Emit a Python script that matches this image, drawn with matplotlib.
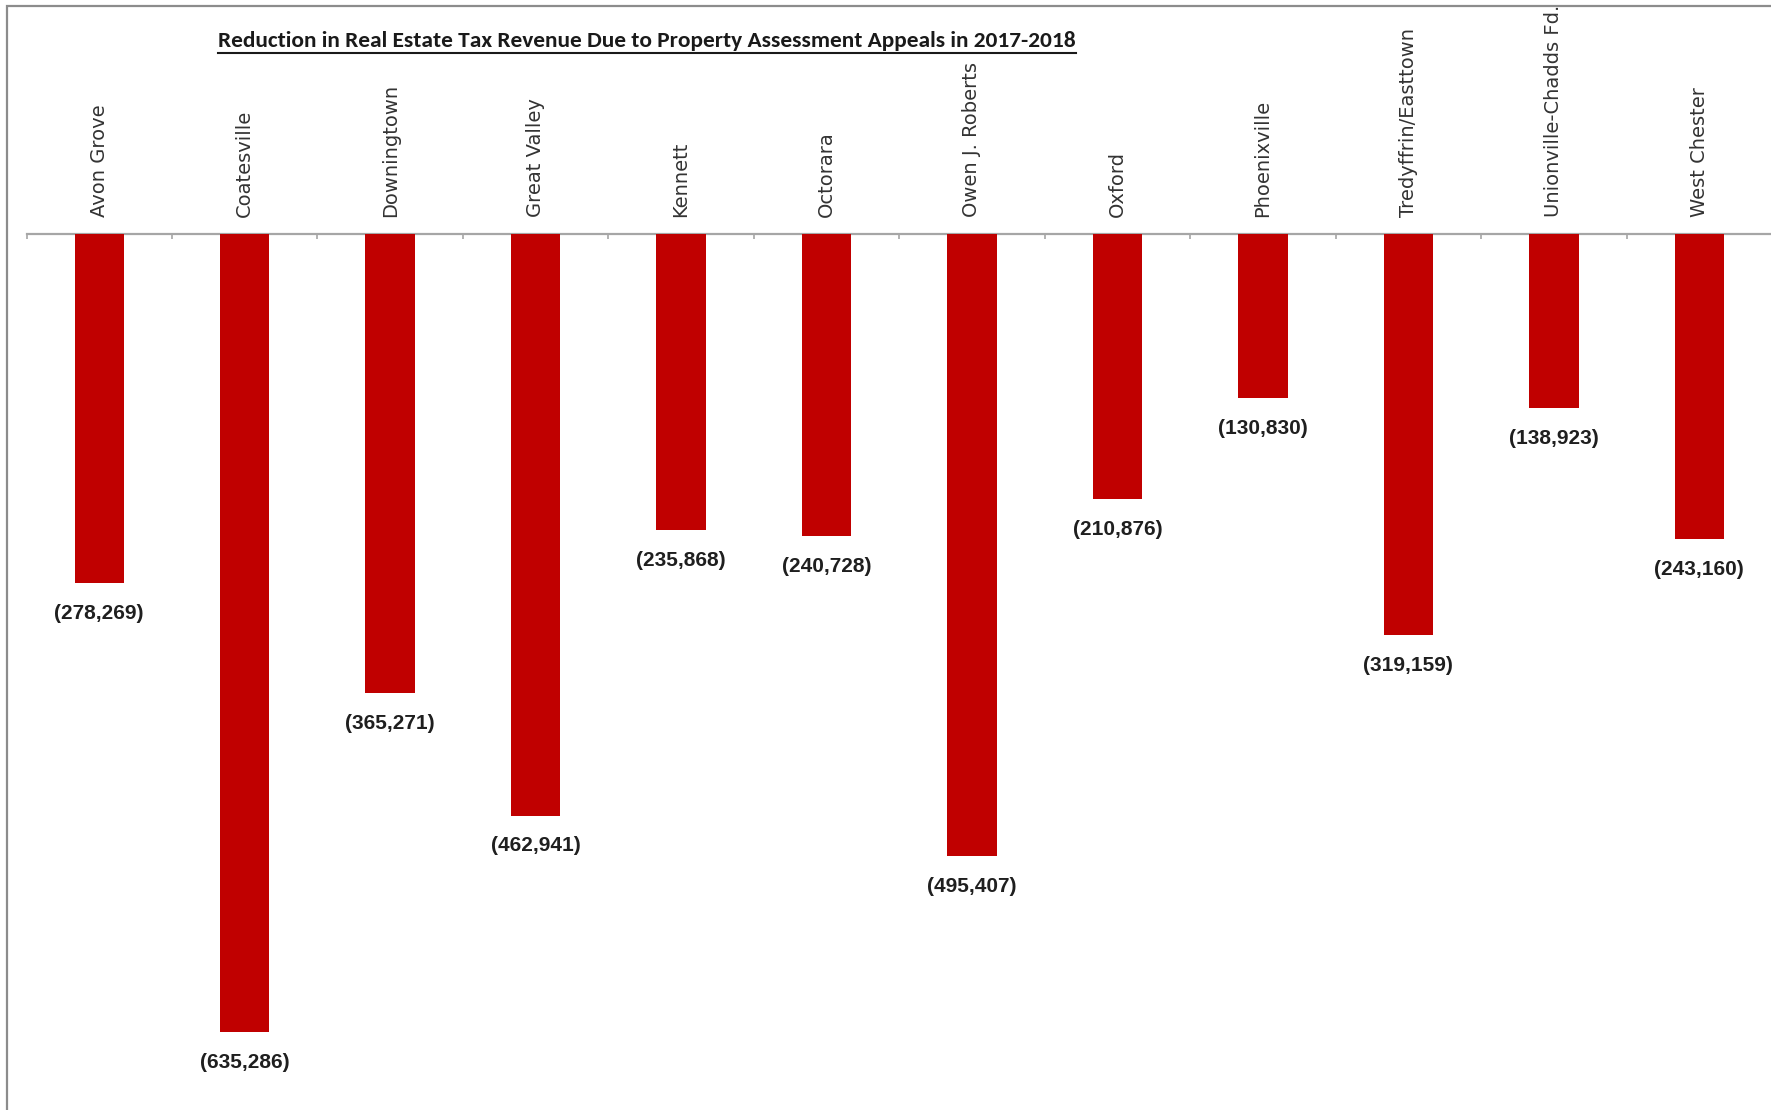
import matplotlib
matplotlib.use("Agg")
import matplotlib.pyplot as plt
from matplotlib.patches import Rectangle
from matplotlib.lines import Line2D
import numpy as np

districts = ["Avon Grove", "Coatesville", "Downingtown", "Great Valley", "Kennett",
             "Octorara", "Owen J. Roberts", "Oxford", "Phoenixville",
             "Tredyffrin/Easttown", "Unionville-Chadds Fd.", "West Chester"]
reductions = [-278269, -635286, -365271, -462941, -235868, -240728,
              -495407, -210876, -130830, -319159, -138923, -243160]
title = "Reduction in Real Estate Tax Revenue Due to Property Assessment Appeals in 2017-2018"

W, H = 1771, 1110
fig = plt.figure(figsize=(W / 100, H / 100), dpi=100)
fig.patch.set_facecolor("white")

# axes: x from 26.5 px to 1772 px, y from zero line (233.5 px) to bottom
ax_left = 26.5 / W
ax_width = (1772 - 26.5) / W
ax_height = (H - 233.5) / H
ax = fig.add_axes([ax_left, 0, ax_width, ax_height])

x = np.arange(len(districts))
ax.bar(x, reductions, width=0.34, color="#C00000", zorder=3)

ax.set_xlim(-0.5, len(districts) - 0.5)
ax.set_ylim(-697000, 0)

for spine in ["left", "right", "bottom"]:
    ax.spines[spine].set_visible(False)
ax.spines["top"].set_color("#a6a6a6")
ax.spines["top"].set_linewidth(1.6)
ax.set_yticks([])

ax.xaxis.set_ticks_position("top")
ax.set_xticks(x)
ax.set_xticklabels(districts, rotation=90, fontsize=14, color="#333333",
                   fontfamily="DejaVu Sans")
ax.tick_params(axis="x", which="major", length=0, pad=12)
ax.set_xticks(np.arange(-0.5, len(districts), 1.0), minor=True)
ax.tick_params(axis="x", which="minor", direction="in", length=3.5,
               width=1.2, color="#a6a6a6", top=True, bottom=False)

for xi, v in zip(x, reductions):
    ax.annotate(f"({abs(v):,})", xy=(xi, v), xytext=(0, -15),
                textcoords="offset points", ha="center", va="top",
                fontsize=15, fontweight="bold", color="#1f1f1f",
                fontfamily=["Liberation Sans", "DejaVu Sans"])

# chart area frame (left + top visible)
frame = Rectangle((7.5 / W, -0.1), 2.0, 1.1 - 5.5 / H, transform=fig.transFigure,
                  fill=False, edgecolor="#8c8c8c", linewidth=1.6, zorder=10)
fig.add_artist(frame)

t = fig.text(647 / W, 1 - 47 / H, title, ha="center", va="baseline",
             fontsize=16.8, fontweight="bold", color="#1a1a1a",
             fontfamily=["Carlito", "Liberation Sans Narrow", "DejaVu Sans"])

fig.canvas.draw()
bb = t.get_window_extent(renderer=fig.canvas.get_renderer())
yline = (H - 53) / H
fig.add_artist(Line2D([bb.x0 / W, bb.x1 / W], [yline, yline],
                      transform=fig.transFigure, color="#1a1a1a", linewidth=1.5))

fig.savefig("out.png", dpi=100, facecolor="white")
